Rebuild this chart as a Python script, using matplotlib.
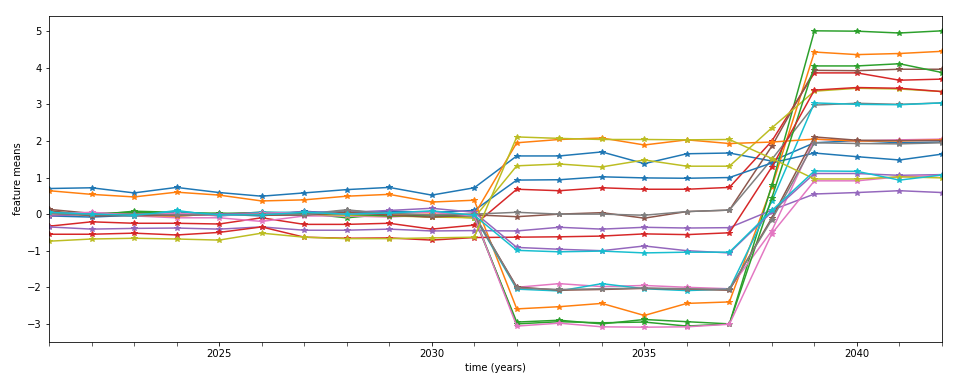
import numpy as np
import matplotlib.pyplot as plt
from matplotlib.ticker import MultipleLocator

years = list(range(2021, 2043))

# each feature: 11 values 2021-2031, 6 values 2032-2037, 2038, 4 values 2039-2042
f0 = [0.70, 0.72, 0.58, 0.73, 0.59, 0.49, 0.58, 0.67, 0.73, 0.52, 0.72,
      1.59, 1.59, 1.70, 1.38, 1.65, 1.67, 1.45, 1.95, 2.01, 1.95, 1.97]
f1 = [0.64, 0.54, 0.47, 0.60, 0.52, 0.36, 0.39, 0.49, 0.54, 0.33, 0.38,
      -2.59, -2.53, -2.44, -2.77, -2.44, -2.40, 0.75, 4.43, 4.36, 4.39, 4.45]
f2 = [0.02, -0.03, 0.08, 0.05, 0.00, 0.05, 0.02, -0.10, 0.00, -0.05, -0.10,
      -2.95, -2.90, -3.00, -2.88, -2.94, -3.00, 0.80, 5.01, 5.00, 4.95, 5.01]
f3 = [-0.33, -0.21, -0.25, -0.25, -0.27, -0.10, -0.28, -0.28, -0.25, -0.41, -0.30,
      0.68, 0.64, 0.72, 0.68, 0.68, 0.73, 2.00, 3.86, 3.86, 3.66, 3.69]
f4 = [-0.35, -0.41, -0.39, -0.38, -0.41, -0.35, -0.44, -0.44, -0.41, -0.46, -0.45,
      -0.46, -0.36, -0.41, -0.36, -0.38, -0.37, 0.11, 0.55, 0.59, 0.64, 0.59]
f5 = [0.13, 0.02, -0.03, -0.05, 0.00, 0.03, -0.02, 0.10, 0.00, -0.08, -0.02,
      -0.07, 0.00, 0.04, -0.11, 0.07, 0.11, 1.86, 3.93, 3.92, 3.96, 3.96]
f6 = [-0.03, 0.03, -0.05, -0.10, -0.10, -0.20, -0.05, -0.05, -0.08, -0.02, -0.05,
      -2.00, -1.90, -1.98, -1.95, -2.00, -2.04, -0.45, 2.05, 2.00, 2.03, 2.05]
f7 = [0.00, -0.02, -0.05, -0.02, 0.00, 0.05, 0.00, 0.12, 0.00, -0.05, 0.00,
      0.05, 0.00, 0.00, -0.03, 0.07, 0.11, 1.50, 2.98, 3.03, 3.00, 3.04]
f8 = [-0.02, 0.00, 0.03, 0.00, -0.02, 0.00, 0.00, -0.03, -0.05, -0.08, -0.10,
      1.32, 1.37, 1.29, 1.48, 1.31, 1.31, 2.36, 3.36, 3.44, 3.42, 3.35]
f9 = [0.05, 0.02, -0.05, 0.10, -0.05, 0.05, 0.05, 0.05, 0.02, 0.07, -0.05,
      -2.05, -2.10, -1.90, -2.04, -2.09, -2.05, 0.36, 3.04, 3.00, 2.99, 3.04]
f10 = [-0.05, -0.08, -0.03, 0.05, 0.00, -0.05, 0.08, 0.00, 0.08, 0.05, 0.10,
       0.93, 0.94, 1.02, 0.99, 0.98, 1.00, 1.40, 1.67, 1.57, 1.48, 1.64]
f11 = [0.00, -0.02, -0.03, -0.05, 0.00, -0.03, 0.00, 0.00, -0.03, 0.00, -0.02,
       1.95, 2.04, 2.08, 1.89, 2.03, 1.93, 1.97, 2.05, 2.00, 2.00, 2.03]
f12 = [-0.03, 0.02, 0.05, 0.02, 0.03, 0.00, 0.02, 0.00, -0.05, -0.02, -0.05,
       -3.00, -2.94, -2.97, -2.95, -3.06, -3.00, 0.45, 4.05, 4.05, 4.11, 3.87]
f13 = [-0.55, -0.55, -0.52, -0.57, -0.50, -0.35, -0.63, -0.66, -0.65, -0.71, -0.64,
       -0.63, -0.62, -0.60, -0.54, -0.56, -0.51, 1.29, 3.39, 3.46, 3.44, 3.35]
f14 = [-0.05, 0.00, 0.00, 0.00, 0.00, 0.02, 0.05, 0.05, 0.10, 0.16, 0.05,
       -0.91, -0.96, -1.00, -0.87, -1.00, -1.06, 0.06, 1.11, 1.11, 1.06, 1.08]
f15 = [0.10, -0.05, -0.03, -0.03, -0.02, -0.03, -0.03, 0.05, -0.03, -0.08, -0.03,
       -1.99, -2.08, -2.06, -2.03, -2.05, -2.08, -0.10, 2.11, 2.02, 2.01, 2.01]
f16 = [0.00, 0.05, -0.02, 0.03, -0.05, 0.02, 0.05, 0.00, 0.03, 0.05, -0.05,
       -3.06, -2.98, -3.08, -3.09, -3.08, -3.01, -0.53, 0.91, 0.91, 1.02, 1.06]
f17 = [0.03, -0.02, 0.00, -0.02, -0.02, 0.00, -0.02, 0.10, 0.02, -0.02, 0.00,
       -2.02, -2.06, -2.04, -2.02, -2.04, -2.06, -0.15, 1.95, 1.93, 1.92, 1.95]
f18 = [-0.74, -0.68, -0.66, -0.68, -0.71, -0.52, -0.63, -0.67, -0.67, -0.65, -0.63,
       2.11, 2.07, 2.04, 2.04, 2.03, 2.04, 1.52, 0.96, 0.96, 1.02, 0.99]
f19 = [0.05, 0.00, -0.03, 0.08, -0.02, -0.02, 0.05, 0.00, 0.03, 0.09, -0.03,
       -0.99, -1.03, -1.01, -1.06, -1.04, -1.04, 0.10, 1.18, 1.17, 0.93, 1.07]

features = [f0, f1, f2, f3, f4, f5, f6, f7, f8, f9,
            f10, f11, f12, f13, f14, f15, f16, f17, f18, f19]

fig = plt.figure(figsize=(966 / 72, 384 / 72), dpi=72)
ax = fig.add_axes([49 / 966, 1 - 342 / 384, (942 - 49) / 966, (342 - 16) / 384])

for f in features:
    ax.plot(years, f, marker='*')

ax.set_xlim(2021, 2042)
ax.xaxis.set_major_locator(MultipleLocator(5))
ax.xaxis.set_minor_locator(MultipleLocator(1))
ax.tick_params(axis='x', which='minor', length=3.5)
ax.set_xlabel('time (years)')
ax.set_ylabel('feature means')

fig.savefig('out.png', dpi=72)
